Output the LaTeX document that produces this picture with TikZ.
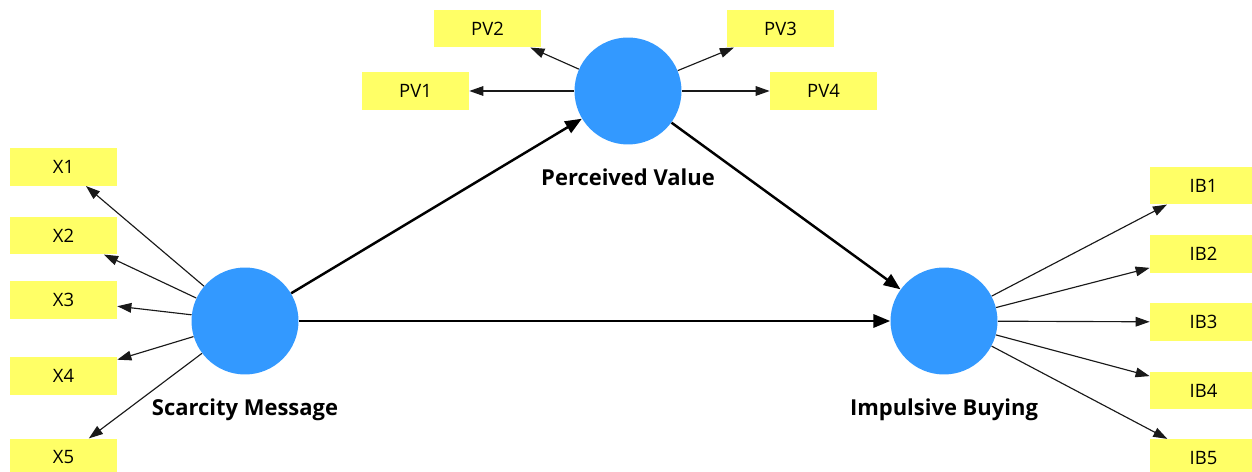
\documentclass[tikz,border=0pt]{standalone}
\usepackage{fontspec}
\setmainfont{Open Sans}
\usetikzlibrary{positioning, arrows.meta}
\definecolor{lv_blue}{RGB}{51,153,255}
\definecolor{ind_yellow}{RGB}{255,255,102}

\begin{document}
\begin{tikzpicture}[
    x=0.02cm, y=-0.02cm,
    % Styles
    latent_node/.style={circle, fill=lv_blue, minimum size=2.14cm, inner sep=0pt},
    indicator_box/.style={rectangle, fill=ind_yellow, minimum width=2.14cm, minimum height=0.75cm, inner sep=0pt, font=\fontsize{10.5}{12}\selectfont},
    latent_label/.style={font=\bfseries\fontsize{12.5}{14}\selectfont},
    path_arrow/.style={-{Triangle[length=9.5pt, width=7.5pt]}, line width=1.4pt},
    load_arrow/.style={-{Triangle[length=8pt, width=5.5pt]}, line width=0.65pt, black!90}
]
\useasboundingbox (0,0) rectangle (1252,472);
\clip (0,0) rectangle (1252,472);

% 1. Latent variables
\node[latent_node] (sm) at (245,321) {};
\node[latent_node] (pv) at (628,91) {};
\node[latent_node] (ib) at (944,321) {};

\node[latent_label, below=0.36cm of sm] (lbl_sm) {Scarcity Message};
\node[latent_label, below=0.36cm of pv] (lbl_pv) {Perceived Value};
\node[latent_label, below=0.36cm of ib] (lbl_ib) {Impulsive Buying};

% 2. Structural paths
\draw[path_arrow] (sm) -- (pv);
\draw[path_arrow] (pv) -- (ib);
\draw[path_arrow] (sm) -- (ib);

% 3. Indicators
% Scarcity Message (left column)
\foreach \i/\ypos in {1/167, 2/235.5, 3/300, 4/376, 5/457.5} {
    \node[indicator_box] (x\i) at (63.5,\ypos) {X\i};
    \draw[load_arrow] (sm) -- (x\i);
}

% Perceived Value (top)
\foreach \i/\xpos/\ypos in {1/415.5/91, 2/487.5/28.5, 3/780.5/28.5, 4/823.5/91} {
    \node[indicator_box] (pv\i) at (\xpos,\ypos) {PV\i};
    \draw[load_arrow] (pv) -- (pv\i);
}

% Impulsive Buying (right column)
\foreach \i/\ypos in {1/185.5, 2/254, 3/322, 4/390.5, 5/458} {
    \node[indicator_box] (ib\i) at (1203.5,\ypos) {IB\i};
    \draw[load_arrow] (ib) -- (ib\i);
}

\end{tikzpicture}
\end{document}
